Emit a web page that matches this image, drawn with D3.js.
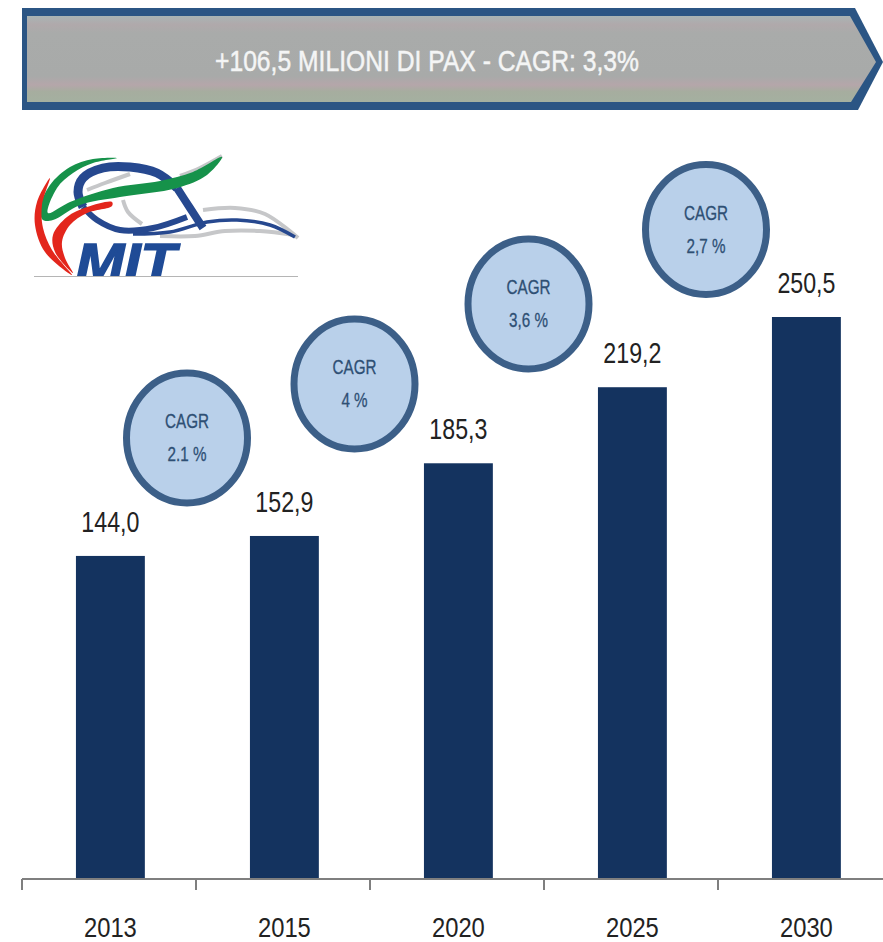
<!DOCTYPE html>
<html>
<head>
<meta charset="utf-8">
<script src="https://cdn.jsdelivr.net/npm/d3@7"></script>
<style>
  html, body { margin: 0; padding: 0; background: #fff; }
  svg { display: block; }
  text { font-family: "Liberation Sans", sans-serif; }
</style>
</head>
<body>
<div id="chart"></div>
<script>
const years = ["2013", "2015", "2020", "2025", "2030"];
const values = [144.0, 152.9, 185.3, 219.2, 250.5];
const cagrLabels = ["2.1 %", "4 %", "3,6 %", "2,7 %"];
const bannerText = "+106,5 MILIONI DI PAX - CAGR: 3,3%";

const width = 883, height = 942;
const axisY = 879;
const plotLeft = 22;

const svg = d3.select("#chart").append("svg")
    .attr("width", width).attr("height", height);

const x = d3.scaleBand()
    .domain(years)
    .range([plotLeft, plotLeft + 872.8])
    .paddingInner(0.604).paddingOuter(0.31);

const y = d3.scaleLinear().domain([0, 250.5]).range([axisY, 317]);

// the reference font is condensed, so squeeze the glyphs of each label
function squeeze(sel, k) {
    sel.each(function() {
        const len = this.getComputedTextLength();
        d3.select(this).attr("textLength", len * k).attr("lengthAdjust", "spacingAndGlyphs");
    });
}

// banner arrow
const defs = svg.append("defs");
const grad = defs.append("linearGradient").attr("id", "bannerFill")
    .attr("x1", 0).attr("x2", 0).attr("y1", 0).attr("y2", 1);
[[0, "#a9b4b4"], [0.1, "#b0a9ab"], [0.2, "#a9abaa"], [0.7, "#a8aaa9"], [0.8, "#b5a6aa"], [0.88, "#a6ad9f"], [1, "#a4b0a0"]]
    .forEach(s => grad.append("stop").attr("offset", s[0]).attr("stop-color", s[1]));

const banner = svg.append("g");
banner.append("path")
    .attr("d", "M22,8 L855,8 L883,62 L858,110 L22,110 Z")
    .attr("fill", "#2b5584");
banner.append("path")
    .attr("d", "M27,16 L850,16 L876,62 L851,102 L27,102 Z")
    .attr("fill", "url(#bannerFill)");
banner.append("text")
    .attr("x", 427).attr("y", 71)
    .attr("text-anchor", "middle")
    .attr("textLength", 424).attr("lengthAdjust", "spacingAndGlyphs")
    .attr("font-size", 29).attr("fill", "#f4f5f5")
    .attr("stroke", "#f4f5f5").attr("stroke-width", 0.5)
    .text(bannerText);

// MIT logo, hand traced
defs.append("clipPath").attr("id", "logoClip")
    .append("rect").attr("x", 30).attr("y", 150).attr("width", 275).attr("height", 126);
const logo = svg.append("g");
const smooth = d3.line().curve(d3.curveCatmullRom);
const smoothClosed = d3.line().curve(d3.curveCatmullRomClosed);

[
    [[87, 190], [105, 183], [130, 174]],
    [[180, 176], [200, 168], [222, 156]],
    [[123, 200], [128, 212], [142, 224]],
    [[203, 210], [235, 208], [265, 214], [298, 238]],
    [[160, 236], [195, 236], [225, 231], [260, 231], [294, 235]]
].forEach(pts => logo.append("path")
    .attr("d", smooth(pts))
    .attr("fill", "none").attr("stroke", "#c6c7c9").attr("stroke-width", 4));

logo.append("path")
    .attr("d", smooth([[177, 188], [157, 173], [130, 167], [103, 168], [83, 178], [78, 192], [83, 207]]))
    .attr("fill", "none").attr("stroke", "#26488f").attr("stroke-width", 9);
logo.append("path")
    .attr("d", smooth([[83, 207], [97, 220], [120, 230], [153, 228], [187, 217]]))
    .attr("fill", "none").attr("stroke", "#26488f").attr("stroke-width", 6);
logo.append("path")
    .attr("d", smooth([[177, 188], [190, 208], [203, 228]]))
    .attr("fill", "none").attr("stroke", "#26488f").attr("stroke-width", 8);
logo.append("path")
    .attr("d", smooth([[133, 234], [170, 232], [207, 222], [237, 220], [270, 225], [295, 237]]))
    .attr("fill", "none").attr("stroke", "#26488f").attr("stroke-width", 3.5);

logo.append("path")
    .attr("d", smoothClosed([[40, 208], [50, 185], [70, 167], [93, 159], [117, 158], [93, 163], [73, 173], [57, 188], [48, 213],
        [70, 202], [113, 188], [160, 181], [193, 172], [222, 157], [207, 175], [177, 188], [120, 197], [80, 205], [53, 220], [43, 220]]))
    .attr("fill", "#16924a");
logo.append("path")
    .attr("d", smoothClosed([[50, 178], [37, 202], [35, 225], [45, 252], [72, 275], [52, 250], [43, 228], [42, 205]]))
    .attr("fill", "#e3261c");
logo.append("path")
    .attr("d", smoothClosed([[73, 273], [55, 252], [53, 235], [67, 217], [87, 207], [112, 202], [112, 206], [87, 213], [70, 225], [62, 242], [65, 258]]))
    .attr("fill", "#e3261c");

logo.append("text")
    .attr("clip-path", "url(#logoClip)")
    .attr("x", 76).attr("y", 280)
    .attr("font-size", 52).attr("font-weight", "bold").attr("font-style", "italic")
    .attr("textLength", 100).attr("lengthAdjust", "spacingAndGlyphs")
    .attr("fill", "#1f4b96").attr("stroke", "#1f4b96").attr("stroke-width", 1.5)
    .text("MIT");
logo.append("line")
    .attr("x1", 34).attr("x2", 298).attr("y1", 276.5).attr("y2", 276.5)
    .attr("stroke", "#b5b5b5").attr("stroke-width", 1);

// bars
svg.append("g").selectAll("rect")
    .data(values).enter().append("rect")
    .attr("x", (d, i) => x(years[i]))
    .attr("y", d => y(d))
    .attr("width", x.bandwidth())
    .attr("height", d => axisY - y(d))
    .attr("fill", "#14335f");

svg.append("g").selectAll("text")
    .data(values).enter().append("text")
    .attr("x", (d, i) => x(years[i]) + x.bandwidth() / 2)
    .attr("y", d => y(d) - 24)
    .attr("text-anchor", "middle")
    .attr("font-size", 29).attr("fill", "#222")
    .text(d => d3.format(".1f")(d).replace(".", ","))
    .call(squeeze, 0.8);

// axis: ticks sit on band edges, labels on band centres
const axis = svg.append("g").attr("transform", `translate(0,${axisY})`);
axis.append("line")
    .attr("x1", plotLeft).attr("x2", width)
    .attr("stroke", "#7f7f7f").attr("stroke-width", 2);
axis.selectAll(".edge")
    .data(years).enter().append("line")
    .attr("class", "edge")
    .attr("x1", d => x(d) - x.step() * x.paddingOuter())
    .attr("x2", d => x(d) - x.step() * x.paddingOuter())
    .attr("y1", 0).attr("y2", 11)
    .attr("stroke", "#7f7f7f").attr("stroke-width", 2);
axis.selectAll(".year")
    .data(years).enter().append("text")
    .attr("class", "year")
    .attr("x", d => x(d) + x.bandwidth() / 2)
    .attr("y", 57.5)
    .attr("text-anchor", "middle")
    .attr("font-size", 27).attr("fill", "#222")
    .text(d => d)
    .call(squeeze, 0.88);

// CAGR bubbles between the bars
const bubbleX = [187, 354.5, 528.5, 706];
const bubbleY = [438, 384, 304, 229.5];
const bubbles = svg.append("g").selectAll("g")
    .data(cagrLabels).enter().append("g")
    .attr("transform", (d, i) => `translate(${bubbleX[i]},${bubbleY[i]})`);
bubbles.append("ellipse")
    .attr("rx", 60.5).attr("ry", 65)
    .attr("fill", "#b9d0ea")
    .attr("stroke", "#3c5f88").attr("stroke-width", 7);
bubbles.append("text")
    .attr("text-anchor", "middle").attr("y", -10)
    .attr("font-size", 20).attr("fill", "#2e4f74")
    .attr("stroke", "#2e4f74").attr("stroke-width", 0.3)
    .text("CAGR")
    .call(squeeze, 0.76);
bubbles.append("text")
    .attr("text-anchor", "middle").attr("y", 23)
    .attr("font-size", 20).attr("fill", "#2e4f74")
    .attr("stroke", "#2e4f74").attr("stroke-width", 0.3)
    .text(d => d)
    .call(squeeze, 0.76);
</script>
</body>
</html>
